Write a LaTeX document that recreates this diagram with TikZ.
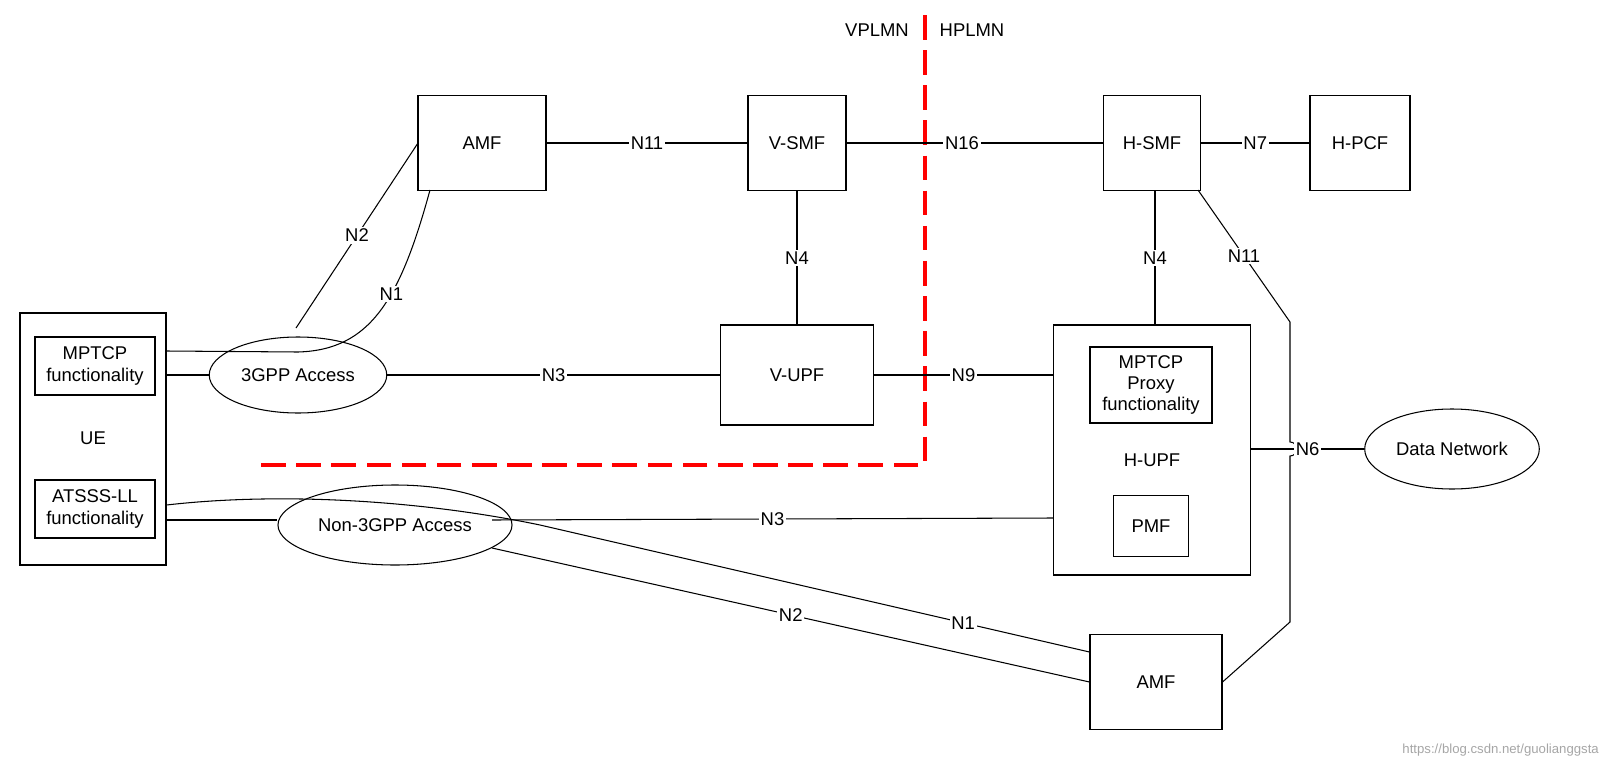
\documentclass[tikz,border=0pt]{standalone}
\usepackage{fontspec}
\setmainfont{Liberation Sans}
\usetikzlibrary{shapes.geometric}
\begin{document}
\begin{tikzpicture}[x=0.02cm,y=-0.02cm,font=\fontsize{10.5}{12}\selectfont,
  lbl/.style={fill=white,inner sep=1pt},
  ln/.style={draw,semithick},
  ell/.style={draw,ellipse,semithick}]
% boxes
\node[draw,semithick,minimum width=146*0.02cm,minimum height=252*0.02cm] (ue) at (93,439) {};
\node at (93,438) {UE};
\node[draw,semithick,minimum width=120*0.02cm,minimum height=58*0.02cm,align=center] (mptcp) at (95,366) {MPTCP\\functionality};
\node[draw,semithick,minimum width=120*0.02cm,minimum height=58*0.02cm,align=center] (atsss) at (95,509) {ATSSS-LL\\functionality};
\node[draw,semithick,minimum width=128*0.02cm,minimum height=95*0.02cm] (amf) at (482,143) {AMF};
\node[draw,semithick,minimum width=98*0.02cm,minimum height=95*0.02cm] (vsmf) at (797,143) {V-SMF};
\node[draw,semithick,minimum width=97*0.02cm,minimum height=95*0.02cm] (hsmf) at (1152,143) {H-SMF};
\node[draw,semithick,minimum width=100*0.02cm,minimum height=95*0.02cm] (hpcf) at (1360,143) {H-PCF};
\node[draw,semithick,minimum width=153*0.02cm,minimum height=100*0.02cm] (vupf) at (797,375) {V-UPF};
\node[draw,semithick,minimum width=197*0.02cm,minimum height=250*0.02cm] (hupf) at (1152,450) {};
\node at (1152,460) {H-UPF};
\node[draw,semithick,minimum width=122*0.02cm,minimum height=76*0.02cm,align=center] (proxy) at (1151,385) {MPTCP\\Proxy\\functionality};
\node[draw,semithick,minimum width=75*0.02cm,minimum height=61*0.02cm] (pmf) at (1151,526) {PMF};
\node[draw,semithick,minimum width=132*0.02cm,minimum height=95*0.02cm] (amf2) at (1156,682) {AMF};
\node[ell,minimum width=168*0.02cm,minimum height=76*0.02cm] (g3) at (298,375) {3GPP Access};
\node[ell,minimum width=194*0.02cm,minimum height=80*0.02cm] (n3g) at (395,525) {Non-3GPP Access};
\node[ell,minimum width=146*0.02cm,minimum height=80*0.02cm] (dn) at (1452,449) {Data Network};
% red dashed
\coordinate (r1) at (925,15); \coordinate (r2) at (925,465); \coordinate (r3) at (260,465);
\draw[red,line width=2pt,dash pattern=on 14pt off 6pt] (r1) -- (r2) -- (r3);
\node at (877,30) {VPLMN};
\node at (972,30) {HPLMN};
% connectors
\draw[ln] (amf) -- node[lbl]{N11} (vsmf);
\draw[ln] (vsmf) -- node[lbl,pos=0.45]{N16} (hsmf);
\draw[ln] (hsmf) -- node[lbl]{N7} (hpcf);
\draw[ln] (vsmf) -- node[lbl]{N4} (vupf);
\draw[ln] (hsmf.south) ++(3,0) coordinate (h4a) (h4a) -- node[lbl]{N4} (h4a |- hupf.north);
\coordinate (k1) at (1290,322); \coordinate (k2) at (1290,622);
\draw[ln] (1198,190) -- node[lbl,pos=0.5]{N11} (k1) -- (1290,442) arc[start angle=-90,end angle=90,radius=7] -- (k2) -- (amf2.east);
\draw[ln] (ue.east |- 0,375) -- (g3.west);
\draw[ln] (g3) -- node[lbl]{N3} (vupf);
\draw[ln] (vupf) -- node[lbl,pos=0.5]{N9} (hupf.west |- vupf);
\draw[ln] (hupf.east |- dn) -- node[lbl,pos=0.5]{N6} (dn);
\draw[ln] (ue.east |- 0,520) -- (n3g.west |- 0,520);
\draw[ln] (492,520) -- node[lbl]{N3} (hupf.west |- 0,518);
\coordinate (a1) at (418,143); \coordinate (a2) at (430,190);
\draw[ln] (296,328) -- node[lbl]{N2} (a1);
\draw[ln] (ue.east |- 0,351) -- (298,352) .. controls (370,350) and (400,300) .. node[lbl,pos=0.6]{N1} (a2);
\draw[ln] (ue.east |- 0,505) .. controls (280,492) and (420,500) .. (540,525) -- node[lbl,pos=0.77]{N1} (amf2.west |- 0,652);
\draw[ln] (492,548) -- node[lbl,pos=0.5]{N2} (amf2.west |- 0,682);
\node[text=gray!70,font=\fontsize{7.5}{9}\selectfont,anchor=east] (wm) at (1605,750) {https://blog.csdn.net/guolianggsta};
\pgfresetboundingbox
\path[use as bounding box] (0,0) rectangle (1613,764);
\end{tikzpicture}
\end{document}
